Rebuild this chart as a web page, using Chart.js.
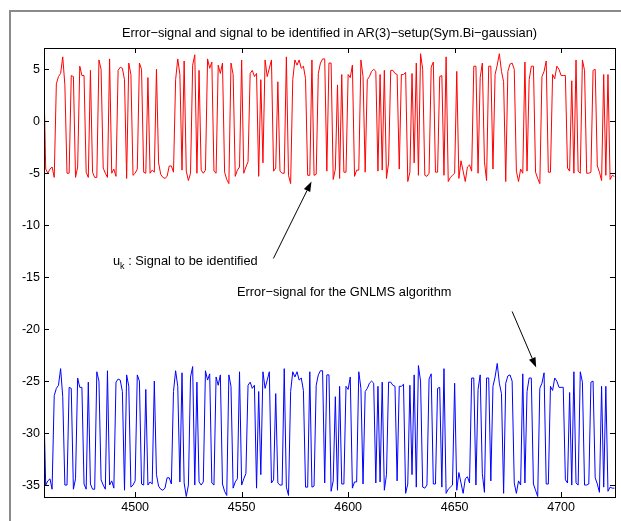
<!DOCTYPE html>
<html>
<head>
<meta charset="utf-8">
<script src="https://cdn.jsdelivr.net/npm/chart.js@4/dist/chart.umd.min.js"></script>
<style>
  html, body { margin: 0; padding: 0; background: #fff; }
  #wrap { width: 621px; height: 521px; }
</style>
</head>
<body>
<div id="wrap"><canvas id="errChart" width="621" height="521"></canvas></div>
<script>
// sample range shown on the x axis
const firstSample = 4457;
const xTicks = [4500, 4550, 4600, 4650, 4700];
const yTicks = [5, 0, -5, -10, -15, -20, -25, -30, -35];

// u_k : signal to be identified (red)
const signalU = [
  5.4, -4.6, -5.0, -4.6, -4.4, -5.4, 3.6, 4.3, 4.6, 6.2,
  3.5, -5.0, -5.0, 4.4, 4.3, -5.4, -4.4, 5.3, 4.4, 4.4,
  -4.9, -5.4, 4.9, -4.9, -5.4, -5.4, 5.9, 5.0, -4.5, -5.0,
  -5.4, 6.0, -5.0, -4.6, -5.3, 4.9, 5.2, 5.1, 4.0, -5.5,
  5.6, 4.5, -5.2, -5.0, -4.6, 5.6, 5.0, -4.9, -5.0, 4.2,
  -5.0, -4.7, -4.9, 5.0, -4.0, -5.1, -5.4, -5.5, -5.3, -4.3,
  -4.3, -4.9, 4.0, 6.0, 4.5, -4.7, 5.8, -4.8, -5.7, -5.0,
  5.4, 6.4, -5.0, 4.9, -4.7, -5.0, -4.7, 6.0, 5.1, 5.7,
  -4.8, -5.0, 5.4, 4.6, 5.6, -4.9, -5.6, -6.0, 5.6, 4.5,
  -5.3, -4.7, -4.4, 5.9, -5.0, -4.4, -3.9, 4.6, 4.9, 4.3,
  4.6, -5.3, 4.0, -4.0, 5.9, 4.3, 5.1, 5.9, -4.8, -4.5,
  3.8, -4.8, -5.0, -5.0, 6.2, -5.2, -6.0, 4.0, 5.9, 5.4,
  5.9, 5.1, 5.3, 4.1, -5.2, -5.2, 5.9, -5.2, -5.1, 4.6,
  5.6, 6.0, 6.0, -4.8, 5.6, 5.6, -5.6, -4.6, 3.5, -5.5,
  4.5, -4.9, -4.9, 4.5, 4.2, 5.4, -5.3, -4.7, -4.7, 5.9,
  4.3, -4.9, 4.0, 4.3, 4.8, 5.0, 4.8, -4.8, 4.5, -4.7,
  4.9, -5.5, -4.0, 4.9, 4.9, 4.6, 4.5, -4.6, 4.5, 4.5,
  4.7, -5.8, -4.9, 4.6, -4.0, 5.6, -5.2, 6.5, 5.0, -5.2,
  -5.3, -5.0, 5.2, 5.7, -4.9, -4.9, 4.3, 4.4, -5.2, 6.2,
  -5.8, -5.4, -5.2, -5.0, 4.8, -5.5, -3.8, -4.8, -5.8, -4.4,
  -4.2, -4.8, 5.3, 5.3, -5.0, 4.2, 5.6, -3.9, -5.7, 5.3,
  5.3, -4.6, 4.5, 5.4, 6.5, 4.8, 3.8, -5.8, 4.8, 5.5,
  5.6, 5.0, -4.8, -5.8, -4.6, -5.0, 5.7, -4.8, 4.0, 5.3,
  5.3, -4.9, -5.5, -6.0, 4.3, 4.8, 5.8, -4.9, -4.9, 4.5,
  4.1, 5.3, 5.0, 4.4, 4.4, 4.4, -4.5, -4.8, 3.9, -5.0,
  5.9, -4.8, -5.0, 5.9, 4.9, -5.0, -5.0, -4.9, 4.9, 5.0,
  -4.3, -4.9, -5.7, 4.5, -5.2, 4.5, -5.6, -5.2, -5.3
];

// error signal of the GNLMS algorithm, drawn with a -30 offset (blue)
const errorGnlms = [
  -26.2, -35.0, -34.6, -34.4, -35.4, -26.4, -25.7, -25.4, -23.8, -26.5,
  -35.0, -35.0, -25.6, -25.7, -35.4, -34.4, -24.7, -25.6, -25.6, -34.9,
  -35.4, -25.1, -34.9, -35.4, -35.4, -24.1, -25.0, -34.5, -35.0, -35.4,
  -24.0, -35.0, -34.6, -35.3, -25.1, -24.8, -24.9, -26.0, -35.5, -24.4,
  -25.5, -35.2, -35.0, -34.6, -24.4, -25.0, -34.9, -35.0, -25.8, -35.0,
  -34.7, -34.9, -25.0, -34.0, -35.1, -35.4, -35.5, -35.3, -34.3, -34.3,
  -34.9, -26.0, -24.0, -25.5, -34.7, -24.2, -34.8, -36.1, -35.0, -24.6,
  -23.6, -35.0, -25.1, -34.7, -35.0, -34.7, -24.0, -24.9, -24.3, -34.8,
  -35.0, -24.6, -25.4, -24.4, -34.9, -35.6, -36.0, -24.4, -25.5, -35.3,
  -34.7, -34.4, -24.1, -35.0, -34.4, -33.9, -25.4, -25.1, -25.7, -25.4,
  -35.3, -26.0, -34.0, -24.1, -25.7, -24.9, -24.1, -34.8, -34.5, -26.2,
  -34.8, -35.0, -35.0, -23.8, -35.2, -36.0, -26.0, -24.1, -24.6, -24.1,
  -24.9, -24.7, -25.9, -35.2, -35.2, -24.1, -35.2, -35.1, -25.4, -24.4,
  -24.0, -24.0, -34.8, -24.4, -24.4, -35.6, -34.6, -26.5, -35.5, -25.5,
  -34.9, -34.9, -25.5, -25.8, -24.6, -35.3, -34.7, -34.7, -24.1, -25.7,
  -34.9, -26.0, -25.7, -25.2, -25.0, -25.2, -34.8, -25.5, -34.7, -25.1,
  -35.5, -34.0, -25.1, -25.1, -25.4, -25.5, -34.6, -25.5, -25.5, -25.3,
  -35.8, -34.9, -25.4, -34.0, -24.4, -35.2, -23.5, -25.0, -35.2, -35.3,
  -35.0, -24.8, -24.3, -34.9, -34.9, -25.7, -25.6, -35.2, -23.8, -35.8,
  -35.4, -35.2, -35.0, -25.2, -35.5, -33.8, -34.8, -35.8, -34.4, -34.2,
  -34.8, -24.7, -24.7, -35.0, -25.8, -24.4, -33.9, -35.7, -24.7, -24.7,
  -34.6, -25.5, -24.6, -23.3, -25.2, -26.2, -35.8, -25.2, -24.5, -24.4,
  -25.0, -34.8, -35.8, -34.6, -35.0, -24.3, -34.8, -26.0, -24.7, -24.7,
  -34.9, -35.5, -36.1, -25.7, -25.2, -24.2, -34.9, -34.9, -25.5, -25.9,
  -24.7, -25.0, -25.6, -25.6, -25.6, -34.5, -34.8, -26.1, -35.0, -24.1,
  -34.8, -35.0, -24.1, -25.1, -35.0, -35.0, -34.9, -25.1, -25.0, -34.3,
  -34.9, -35.7, -25.5, -35.2, -25.5, -35.6, -35.2, -35.3, -35.3
];

const samples = signalU.map((v, i) => firstSample + i);

const FAMILY = '"Liberation Sans", Arial, sans-serif';
const FONT = '12.8px ' + FAMILY;

// box, inward ticks, title, arrows and text notes
const decorations = {
  id: 'decorations',
  afterDraw(chart) {
    const { ctx, chartArea: a, scales: { x, y } } = chart;
    ctx.save();

    // outer figure frame
    ctx.strokeStyle = '#8a8a8a';
    ctx.lineWidth = 2;
    ctx.beginPath();
    ctx.moveTo(10, 521);
    ctx.lineTo(10, 11);
    ctx.lineTo(621, 11);
    ctx.stroke();

    // axes box
    ctx.strokeStyle = '#000';
    ctx.lineWidth = 1;
    ctx.strokeRect(Math.round(a.left) + 0.5, Math.round(a.top) + 0.5,
      Math.round(a.right - a.left), Math.round(a.bottom - a.top));

    const tl = 5;
    ctx.beginPath();
    xTicks.forEach(v => {
      const px = Math.round(x.getPixelForValue(v)) + 0.5;
      ctx.moveTo(px, a.bottom); ctx.lineTo(px, a.bottom - tl);
      ctx.moveTo(px, a.top); ctx.lineTo(px, a.top + tl);
    });
    yTicks.forEach(v => {
      const py = Math.round(y.getPixelForValue(v)) + 0.5;
      ctx.moveTo(a.left, py); ctx.lineTo(a.left + tl, py);
      ctx.moveTo(a.right, py); ctx.lineTo(a.right - tl, py);
    });
    ctx.stroke();

    ctx.fillStyle = '#000';
    ctx.font = FONT;
    ctx.textBaseline = 'middle';
    ctx.textAlign = 'center';
    ctx.fillText('Error\u2212signal and signal to be identified in AR(3)\u2212setup(Sym.Bi\u2212gaussian)',
      (a.left + a.right) / 2, 33);

    // note for u_k
    ctx.textAlign = 'left';
    ctx.fillText('u', 113, 261);
    const uw = ctx.measureText('u').width;
    ctx.font = '9px ' + FAMILY;
    ctx.fillText('k', 113 + uw, 267);
    const kw = ctx.measureText('k').width;
    ctx.font = FONT;
    ctx.fillText(' : Signal to be identified', 113 + uw + kw, 261);

    ctx.fillText('Error\u2212signal for the GNLMS algorithm', 237, 292);

    function arrow(x0, y0, x1, y1) {
      const ang = Math.atan2(y1 - y0, x1 - x0);
      const hl = 10, hw = 3.5;
      const bx = x1 - hl * Math.cos(ang), by = y1 - hl * Math.sin(ang);
      ctx.beginPath();
      ctx.moveTo(x0, y0);
      ctx.lineTo(bx, by);
      ctx.stroke();
      ctx.beginPath();
      ctx.moveTo(x1, y1);
      ctx.lineTo(bx + hw * Math.sin(ang), by - hw * Math.cos(ang));
      ctx.lineTo(bx - hw * Math.sin(ang), by + hw * Math.cos(ang));
      ctx.closePath();
      ctx.fill();
    }
    ctx.strokeStyle = '#000';
    ctx.lineWidth = 1;
    arrow(x.getPixelForValue(4564.9), y.getPixelForValue(-13.2),
      x.getPixelForValue(4582.8), y.getPixelForValue(-5.8));
    arrow(x.getPixelForValue(4677.0), y.getPixelForValue(-18.3),
      x.getPixelForValue(4688.3), y.getPixelForValue(-23.7));

    ctx.restore();
  }
};

new Chart(document.getElementById('errChart'), {
  type: 'line',
  data: {
    labels: samples,
    datasets: [
      {
        label: 'u_k',
        data: signalU,
        borderColor: '#ff0000',
        borderWidth: 1,
        pointRadius: 0,
        tension: 0,
        fill: false
      },
      {
        label: 'GNLMS error',
        data: errorGnlms,
        borderColor: '#0000ff',
        borderWidth: 1,
        pointRadius: 0,
        tension: 0,
        fill: false
      }
    ]
  },
  options: {
    responsive: false,
    animation: false,
    events: [],
    layout: { padding: { top: 48, right: 6, left: 0, bottom: 0 } },
    plugins: {
      legend: { display: false },
      tooltip: { enabled: false }
    },
    scales: {
      x: {
        type: 'linear',
        min: 4457.2,
        max: 4725.3,
        grid: { display: false, drawTicks: false },
        border: { display: false },
        afterBuildTicks: s => { s.ticks = xTicks.map(v => ({ value: v })); },
        afterFit: s => { s.height = 24; },
        ticks: {
          color: '#000',
          padding: 3,
          maxRotation: 0,
          font: { family: FAMILY, size: 12.5 },
          callback: v => String(v)
        }
      },
      y: {
        type: 'linear',
        min: -36.15,
        max: 7.05,
        grid: { display: false, drawTicks: false },
        border: { display: false },
        afterBuildTicks: s => { s.ticks = yTicks.map(v => ({ value: v })); },
        afterFit: s => { s.width = 44; },
        ticks: {
          color: '#000',
          padding: 4,
          font: { family: FAMILY, size: 12.5 },
          callback: v => String(v)
        }
      }
    }
  },
  plugins: [decorations]
});
</script>
</body>
</html>
